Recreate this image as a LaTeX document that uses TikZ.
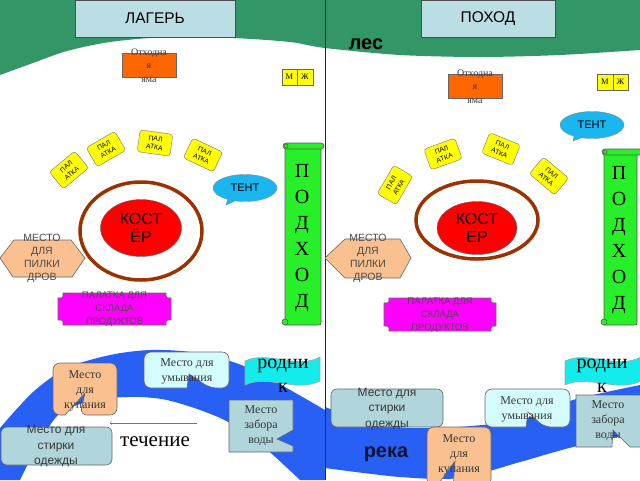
\documentclass[tikz,border=0pt]{standalone}
\usepackage{fontspec}
\setmainfont{Liberation Serif}
\setsansfont{Liberation Sans}
\usetikzlibrary{shapes.geometric,shapes.callouts}
\definecolor{forest}{RGB}{51,150,102}
\definecolor{hdrblue}{RGB}{186,222,228}
\definecolor{pit}{RGB}{255,102,0}
\definecolor{awning}{RGB}{25,182,240}
\definecolor{firering}{RGB}{153,51,0}
\definecolor{peach}{RGB}{250,192,144}
\definecolor{trail}{RGB}{40,240,40}
\definecolor{river}{RGB}{40,95,245}
\definecolor{washblue}{RGB}{212,252,252}
\definecolor{greyblue}{RGB}{176,214,220}
\definecolor{spring}{RGB}{20,235,235}
\definecolor{inkgrey}{RGB}{55,55,55}
\definecolor{navyink}{RGB}{15,20,50}
\definecolor{tentyellow}{RGB}{255,255,0}
\definecolor{storepink}{RGB}{255,0,255}
\definecolor{firered}{RGB}{255,0,0}
\tikzset{
  hdrbox/.style={draw=black!70, fill=hdrblue, minimum height=37pt, inner sep=0pt, font=\sffamily\fontsize{15.5}{18}\selectfont},
  pitbox/.style={draw=black!60, fill=pit, minimum width=54pt, minimum height=24pt, inner sep=0pt},
  pittext/.style={align=center, text=inkgrey, inner sep=0pt, font=\fontsize{10}{13.5}\selectfont},
  wc/.style={draw=black!60, fill=tentyellow, minimum width=15.5pt, minimum height=16pt, inner sep=0pt, font=\fontsize{8.5}{10}\selectfont},
  tent/.style={draw=black!55, fill=tentyellow, rounded corners=3pt, minimum width=33pt, minimum height=22pt, inner sep=0pt, align=center, font=\sffamily\fontsize{6.8}{8.5}\selectfont},
  awn/.style={ellipse callout, draw=black!45, fill=awning, minimum width=64pt, minimum height=27pt, inner sep=0pt, font=\sffamily\fontsize{11}{13}\selectfont},
  fire/.style={ellipse, draw=black!60, fill=firered, minimum width=81pt, minimum height=57pt, inner sep=0pt, align=center, font=\sffamily\fontsize{16}{18}\selectfont},
  ring/.style={draw=firering, line width=3.5pt},
  outline/.style={draw=black!60, line width=0.6pt},
  sawtext/.style={align=center, text=black!70, inner sep=0pt, font=\sffamily\fontsize{10.5}{12.8}\selectfont},
  storetext/.style={align=center, text=black!70, inner sep=0pt, font=\sffamily\fontsize{9.5}{13}\selectfont},
  scroll/.style={draw=black!65, line width=0.6pt, fill=trail},
  trailtext/.style={align=center, inner sep=0pt, font=\fontsize{20}{26}\selectfont},
  calltext/.style={align=center, text=inkgrey, inner sep=0pt, font=\fontsize{12}{15}\selectfont},
  calltextsf/.style={align=center, text=inkgrey, inner sep=0pt, font=\sffamily\fontsize{12}{15.5}\selectfont},
  springtext/.style={align=center, inner sep=0pt, font=\fontsize{20}{24}\selectfont},
}
\begin{document}
\begin{tikzpicture}[x=1pt,y=-1pt]
\useasboundingbox (0,0) rectangle (640,480);
\fill[forest] (0,0) -- (640,0) -- plot[smooth] coordinates {(640,50) (560,55) (480,57) (400,55) (325,48) (290,42) (233,38) (167,37) (110,42) (67,51) (33,63) (0,75)} -- cycle;
\fill[river] plot[smooth] coordinates {(0,428) (33,392) (67,368) (110,355) (150,350) (190,352) (233,362) (267,377) (325,410)} -- (325,480) -- plot[smooth] coordinates {(300,480) (265,448) (230,423) (200,410) (167,400) (140,397) (110,398) (83,403) (58,415) (38,445) (20,480)} -- (0,480) -- cycle;
\fill[river] plot[smooth] coordinates {(325,407) (380,425) (440,428) (520,420) (573,400) (640,385)} -- plot[smooth] coordinates {(640,432) (573,447) (520,462) (460,478) (400,477) (325,468)} -- cycle;
\draw[black!85, line width=0.8pt] (325,0) -- (325,480);

\node[hdrbox, minimum width=160pt] (camp) at (155,18.5) {ЛАГЕРЬ};
\node[hdrbox, minimum width=134pt] (hike) at (488,18.5) {ПОХОД};
\node[font=\sffamily\bfseries\fontsize{20}{24}\selectfont] (woods) at (366,44) {лес};

% лагерь
\node[pitbox] (pitA) at (149,65) {};
\node[pittext] (pitAtext) at (149,65.5) {Отходна\\я\\яма};
\node[wc] (menA) at (289.5,77) {М};
\node[wc] (womenA) at (305,77) {Ж};
\node[tent, rotate=40] (tentA1) at (69,170) {ПАЛ\\АТКА};
\node[tent, rotate=30] (tentA2) at (106,149) {ПАЛ\\АТКА};
\node[tent, rotate=-8] (tentA3) at (155,143) {ПАЛ\\АТКА};
\node[tent, rotate=-25] (tentA4) at (203,155) {ПАЛ\\АТКА};
\node[awn, callout absolute pointer={(226,205)}] (awnA) at (245,188) {ТЕНТ};
\draw[ring] (141,231) ellipse [x radius=61, y radius=49];
\node[fire] (fireA) at (141,228) {КОСТ\\ЁР};
\filldraw[outline, fill=peach] (0,258) -- (14,240) -- (71,240) -- (85,258) -- (72,277) -- (13,277) -- cycle;
\node[sawtext] (sawA) at (42,258.5) {МЕСТО\\ДЛЯ\\ПИЛКИ\\ДРОВ};
\filldraw[outline, fill=storepink] (63,293) -- (166,293) .. controls (166,298) .. (171,298) -- (171,320) .. controls (166,320) .. (166,325) -- (63,325) .. controls (63,320) .. (58,320) -- (58,298) .. controls (63,298) .. (63,293) -- cycle;
\node[storetext] (storeA) at (114.5,309.5) {ПАЛАТКА ДЛЯ\\СКЛАДА\\ПРОДУКТОВ};
\filldraw[scroll] (285,146) -- (321,146) -- (321,322) .. controls (321,325) .. (318,325) -- (285,325) -- cycle;
\filldraw[scroll, rounded corners=3pt] (283,143) rectangle (324,149);
\filldraw[scroll] (286,146) circle[radius=2];
\filldraw[scroll] (285,322) circle[radius=3];
\node[trailtext] (trailA) at (302,238) {П\\О\\Д\\Х\\О\\Д};

\filldraw[outline, fill=peach, rounded corners=7pt] (85,363) -- (117,363) -- (117,415) -- (80,415) [sharp corners] -- (85,393) -- (65,415) [rounded corners=7pt] -- (53,415) -- (53,363) -- cycle;
\node[calltext] (bathA) at (85,391) {Место\\для\\купания};
\filldraw[outline, fill=washblue, rounded corners=7pt] (186,352) -- (229,352) -- (229,388) -- (210,388) [sharp corners] -- (189,374) -- (187,388) [rounded corners=7pt] -- (144,388) -- (144,352) -- cycle;
\node[calltext] (washA) at (187,371) {Место для\\умывания};
\filldraw[outline, fill=spring, draw=black!35] (245,361) .. controls (268,350) and (296,370) .. (320,357) -- (320,381) .. controls (296,393) and (268,374) .. (245,385) -- cycle;
\node[springtext] (springA) at (283,376) {родни\\к};
\filldraw[outline, fill=greyblue] (229,400) -- (293,400) -- (293,430) -- (277,439) -- (293,446) -- (293,452) -- (229,452) -- cycle;
\node[calltext] (waterA) at (261,426) {Место\\забора\\воды};
\filldraw[outline, fill=greyblue, rounded corners=6pt] (1,427) rectangle (112,465);
\node[calltextsf] (laundryA) at (56,446.5) {Место для\\стирки\\одежды};
\coordinate (flowA) at (197,423);
\coordinate (flowB) at (110,423);
\draw[->, black!55] (flowA) -- (flowB);
\node[font=\fontsize{21}{24}\selectfont] (flowlabel) at (155,442) {течение};

% поход
\node[pitbox] (pitB) at (475,86) {};
\node[pittext] (pitBtext) at (475,86.5) {Отходна\\я\\яма};
\node[wc] (menB) at (605,82) {М};
\node[wc] (womenB) at (620.5,82) {Ж};
\node[tent, rotate=60] (tentB1) at (395,185) {ПАЛ\\АТКА};
\node[tent, rotate=20] (tentB2) at (443,154) {ПАЛ\\АТКА};
\node[tent, rotate=-22] (tentB3) at (501,149) {ПАЛ\\АТКА};
\node[tent, rotate=-40] (tentB4) at (549,176) {ПАЛ\\АТКА};
\node[awn, callout absolute pointer={(573,141)}] (awnB) at (592,125) {ТЕНТ};
\draw[ring] (477,220) ellipse [x radius=61, y radius=39];
\node[fire, minimum width=80pt, minimum height=53pt] (fireB) at (477,228) {КОСТ\\ЕР};
\filldraw[outline, fill=peach] (325,258) -- (345,239) -- (400,239) -- (411,258) -- (400,278) -- (345,278) -- cycle;
\node[sawtext] (sawB) at (368,258.5) {МЕСТО\\ДЛЯ\\ПИЛКИ\\ДРОВ};
\filldraw[outline, fill=storepink] (389,298) -- (491,298) .. controls (491,303) .. (496,303) -- (496,326) .. controls (491,326) .. (491,331) -- (389,331) .. controls (389,326) .. (384,326) -- (384,303) .. controls (389,303) .. (389,298) -- cycle;
\node[storetext] (storeB) at (440,315.5) {ПАЛАТКА ДЛЯ\\СКЛАДА\\ПРОДУКТОВ};
\filldraw[scroll] (604,152) -- (637,152) -- (637,322) .. controls (637,325) .. (634,325) -- (604,325) -- cycle;
\filldraw[scroll, rounded corners=3pt] (602,149) rectangle (643,155);
\filldraw[scroll] (605,152) circle[radius=2];
\filldraw[scroll] (604,322) circle[radius=3];
\node[trailtext] (trailB) at (619,240) {П\\О\\Д\\Х\\О\\Д};

\filldraw[outline, fill=greyblue, rounded corners=6pt] (331,389) rectangle (443,427);
\node[calltextsf] (laundryB) at (387,409) {Место для\\стирки\\одежды};
\filldraw[outline, fill=peach, rounded corners=7pt] (459,427) -- (491,427) -- (491,486) -- (453,486) [sharp corners] -- (455,461) -- (437,486) [rounded corners=7pt] -- (427,486) -- (427,427) -- cycle;
\node[calltext] (bathB) at (459,455) {Место\\для\\купания};
\filldraw[outline, fill=washblue, rounded corners=7pt] (527,389) -- (570,389) -- (570,427) -- (544,427) [sharp corners] -- (528,412) -- (526,427) [rounded corners=7pt] -- (485,427) -- (485,389) -- cycle;
\node[calltext] (washB) at (527,409.5) {Место для\\умывания};
\filldraw[outline, fill=spring, draw=black!35] (565,361) .. controls (588,350) and (616,370) .. (641,357) -- (641,381) .. controls (616,393) and (588,374) .. (565,385) -- cycle;
\node[springtext] (springB) at (602,376) {родни\\к};
\filldraw[outline, fill=greyblue] (576,395) -- (642,395) -- (642,447) -- (630,447) -- (613,430) -- (612,447) -- (576,447) -- cycle;
\node[calltext] (waterB) at (608,420.5) {Место\\забора\\воды};
\node[font=\sffamily\bfseries\fontsize{20}{24}\selectfont, text=navyink] (riverlabel) at (386,454) {река};
\end{tikzpicture}
\end{document}
